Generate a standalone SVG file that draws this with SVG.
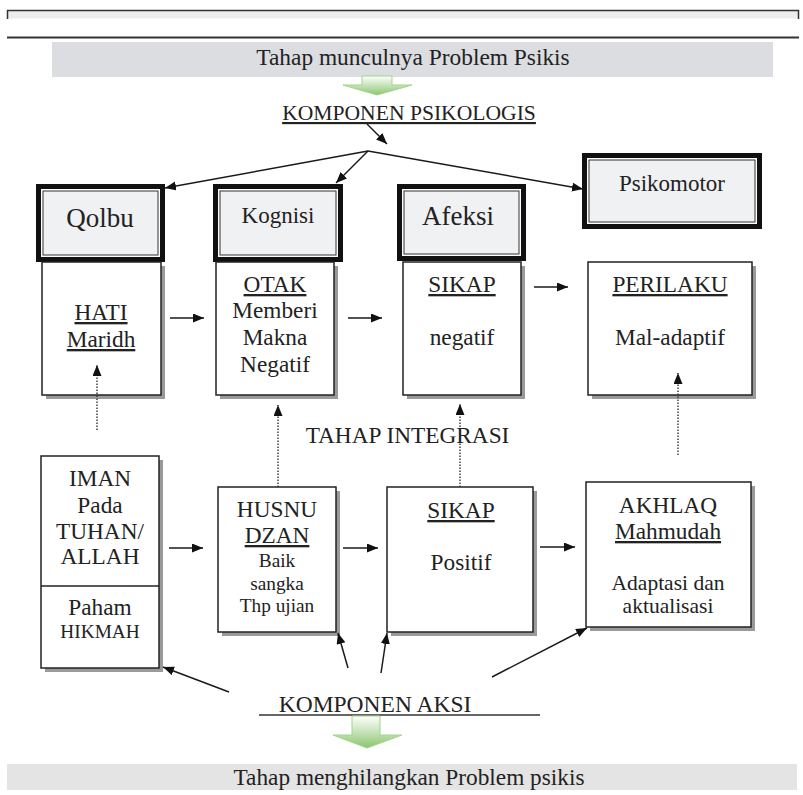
<svg xmlns="http://www.w3.org/2000/svg" width="803" height="795" viewBox="0 0 803 795" font-family="Liberation Serif, Tinos, Times New Roman, serif">
<defs>
<style>
text{font-family:'Liberation Serif','Tinos','Times New Roman',serif;fill:#222;text-anchor:middle}
.t23{font-size:23.3px}
.t19{font-size:19.3px}
.t21{font-size:21.5px}
.u{text-decoration:underline}
.box{fill:#fff;stroke:#222;stroke-width:1.5}
.shadow{fill:#9a9a9a}
.conn{stroke:#1a1a1a;stroke-width:1.5;fill:none;marker-end:url(#ah)}
.dot{stroke:#333;stroke-width:1.4;fill:none;stroke-dasharray:1.5 1.5;marker-end:url(#ah)}
.fo{fill:#111}
.fw{fill:#fff}
.fi{fill:#f0f1f3;stroke:#333;stroke-width:1}
</style>
<marker id="ah" markerUnits="userSpaceOnUse" markerWidth="12" markerHeight="10" refX="11" refY="4.5" orient="auto">
<path d="M0,0 L11,4.5 L0,9 Z" fill="#111"/>
</marker>
<linearGradient id="gr" x1="0" y1="0" x2="0" y2="1">
<stop offset="0" stop-color="#ffffff"/>
<stop offset="1" stop-color="#8cc56f"/>
</linearGradient>
</defs>

<g id="top-frame">
<rect x="7.5" y="10.5" width="791" height="8" fill="#ededed"/>
<path d="M7.5,19 V10.5 H798.5 V19" fill="none" stroke="#333" stroke-width="1.5"/>
<line x1="7" y1="37.5" x2="799" y2="37.5" stroke="#333" stroke-width="2"/>
</g>

<g id="title-top">
<rect x="52" y="42" width="721" height="35" fill="#dcdde0"/>
<text class="t23" x="413" y="65" style="font-size:23.4px">Tahap munculnya Problem Psikis</text>
</g>

<g id="green-arrow-top">
<path d="M362,76 H392 V85 H412 L377,95 L343,85 H362 Z" fill="url(#gr)" stroke="#9fd588" stroke-width="1"/>
</g>

<g id="komponen-psikologis">
<text class="u" x="409" y="120" style="font-size:21.6px">KOMPONEN PSIKOLOGIS</text>
</g>

<g id="qolbu">
<rect class="fo" x="36" y="184" width="129" height="78"/>
<rect class="fw" x="41" y="189" width="119" height="68"/>
<rect class="fi" x="43" y="191" width="115" height="64"/>
<text x="100" y="227" style="font-size:27px">Qolbu</text>
</g>

<g id="kognisi">
<rect class="fo" x="213" y="184" width="130" height="78"/>
<rect class="fw" x="218" y="189" width="120" height="68"/>
<rect class="fi" x="220" y="191" width="116" height="64"/>
<text x="278" y="223" style="font-size:23px">Kognisi</text>
</g>

<g id="afeksi">
<rect class="fo" x="397" y="184" width="129" height="77"/>
<rect class="fw" x="402" y="189" width="119" height="67"/>
<rect class="fi" x="404" y="191" width="115" height="63"/>
<text x="458" y="225" style="font-size:27px">Afeksi</text>
</g>

<g id="psikomotor">
<rect class="fo" x="582" y="153" width="180" height="76"/>
<rect class="fw" x="587" y="158" width="170" height="66"/>
<rect class="fi" x="589" y="160" width="166" height="62"/>
<text x="672" y="191" style="font-size:23px">Psikomotor</text>
</g>

<g id="hati">
<rect class="shadow" x="46" y="266" width="119" height="133"/>
<rect class="box" x="42" y="262" width="119" height="133"/>
<text class="t23 u" x="101" y="320">HATI</text>
<text class="t23 u" x="101" y="347">Maridh</text>
</g>

<g id="otak">
<rect class="shadow" x="220" y="266" width="118" height="133"/>
<rect class="box" x="216" y="262" width="118" height="133"/>
<text class="t23 u" x="275" y="292">OTAK</text>
<text class="t23" x="275" y="318">Memberi</text>
<text class="t23" x="275" y="345">Makna</text>
<text class="t23" x="275" y="372">Negatif</text>
</g>

<g id="sikap-negatif">
<rect class="shadow" x="407" y="266" width="118" height="133"/>
<rect class="box" x="403" y="262" width="118" height="133"/>
<text class="t23 u" x="462" y="292">SIKAP</text>
<text class="t23" x="462" y="345">negatif</text>
</g>

<g id="perilaku">
<rect class="shadow" x="592" y="266" width="164" height="133"/>
<rect class="box" x="588" y="262" width="164" height="133"/>
<text class="t23 u" x="670" y="292">PERILAKU</text>
<text class="t23" x="670" y="345">Mal-adaptif</text>
</g>

<g id="tahap-integrasi">
<text class="t23" x="407.5" y="443">TAHAP INTEGRASI</text>
</g>

<g id="iman">
<rect class="shadow" x="45" y="460" width="118" height="212"/>
<rect class="box" x="41" y="456" width="118" height="212"/>
<line x1="41" y1="586" x2="159" y2="586" stroke="#222" stroke-width="1.5"/>
<text class="t23" x="100" y="486">IMAN</text>
<text class="t23" x="100" y="513">Pada</text>
<text class="t23" x="100" y="539">TUHAN/</text>
<text class="t23" x="100" y="564">ALLAH</text>
<text class="t23" x="100" y="615">Paham</text>
<text class="t19" x="100" y="638">HIKMAH</text>
</g>

<g id="husnu-dzan">
<rect class="shadow" x="222" y="491" width="118" height="145"/>
<rect class="box" x="218" y="487" width="118" height="145"/>
<text class="t23" x="277" y="517">HUSNU</text>
<text class="t23 u" x="277" y="543">DZAN</text>
<text class="t19" x="277" y="567">Baik</text>
<text class="t19" x="277" y="590">sangka</text>
<text class="t19" x="277" y="612">Thp ujian</text>
</g>

<g id="sikap-positif">
<rect class="shadow" x="391" y="491" width="146" height="145"/>
<rect class="box" x="387" y="487" width="146" height="145"/>
<text class="t23 u" x="461" y="518">SIKAP</text>
<text class="t23" x="461" y="570">Positif</text>
</g>

<g id="akhlaq">
<rect class="shadow" x="590" y="486" width="165" height="145"/>
<rect class="box" x="586" y="482" width="165" height="145"/>
<text class="t23" x="668" y="513">AKHLAQ</text>
<text class="t23 u" x="668" y="539">Mahmudah</text>
<text class="t21" x="668" y="590">Adaptasi dan</text>
<text class="t21" x="668" y="613">aktualisasi</text>
</g>

<g id="komponen-aksi">
<text class="t23" x="375" y="712" style="font-size:23.5px">KOMPONEN AKSI</text>
<line x1="259" y1="715" x2="540" y2="715" stroke="#333" stroke-width="1.5"/>
</g>

<g id="green-arrow-bottom">
<path d="M352,716 H380 V735 H402 L367,748 L333,735 H352 Z" fill="url(#gr)" stroke="#9fd588" stroke-width="1"/>
</g>

<g id="title-bottom">
<rect x="7" y="764" width="790" height="26" fill="#e4e4e4"/>
<text class="t23" x="409" y="785">Tahap menghilangkan Problem psikis</text>
</g>

<g id="connectors">
<line class="conn" x1="367" y1="124" x2="387" y2="144"/>
<path d="M368,151 L165,188" class="conn"/>
<path d="M368,151 L336,183" class="conn"/>
<path d="M368,151 L583,189" class="conn"/>
<line class="conn" x1="170" y1="318" x2="204" y2="318"/>
<line class="conn" x1="348" y1="318" x2="382" y2="318"/>
<line class="conn" x1="534" y1="287" x2="568" y2="287"/>
<line class="dot" x1="97" y1="430" x2="97" y2="365"/>
<line class="dot" x1="278" y1="487" x2="278" y2="405"/>
<line class="dot" x1="460" y1="487" x2="460" y2="404"/>
<line class="dot" x1="678" y1="455" x2="678" y2="373"/>
<line class="conn" x1="169" y1="548" x2="203" y2="548"/>
<line class="conn" x1="343" y1="548" x2="378" y2="548"/>
<line class="conn" x1="540" y1="547" x2="575" y2="547"/>
<line class="conn" x1="229" y1="692" x2="163" y2="667"/>
<line class="conn" x1="348" y1="668" x2="338" y2="633"/>
<line class="conn" x1="381" y1="673" x2="387" y2="633"/>
<line class="conn" x1="492" y1="677" x2="587" y2="628"/>
</g>
</svg>
